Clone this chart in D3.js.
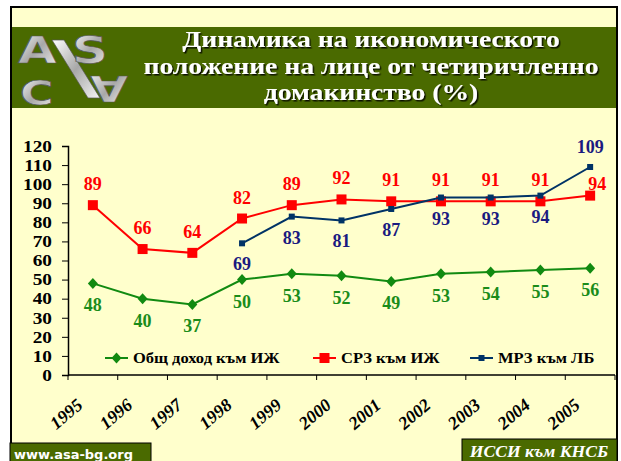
<!DOCTYPE html>
<html lang="bg">
<head>
  <meta charset="UTF-8">
  <title>Динамика на икономическото положение</title>
  <style>
  * { margin: 0; padding: 0; }
  body { background: #fff; }
  </style>
  <script src="https://cdn.jsdelivr.net/npm/d3@7/dist/d3.min.js"></script>
</head>
<body>
<svg width="621" height="461" id="svg1"></svg>
<script>
// данни
const years = ["1995", "1996", "1997", "1998", "1999", "2000", "2001", "2002", "2003", "2004", "2005"];
const obshtDohod = [48, 40, 37, 50, 53, 52, 49, 53, 54, 55, 56];          // Общ доход към ИЖ
const srz = [89, 66, 64, 82, 89, 92, 91, 91, 91, 91, 94];                 // СРЗ към ИЖ
const mrz = [null, null, null, 69, 83, 81, 87, 93, 93, 94, 109];          // МРЗ към ЛБ
const yTicks = [0, 10, 20, 30, 40, 50, 60, 70, 80, 90, 100, 110, 120];
const titleLines = ["Динамика на икономическото", "положение на лице от четиричленно", "домакинство (%)"];

const svg = d3.select("#svg1");
const serif = "'Liberation Serif', 'Times New Roman', serif";

// текст, леко разтеглен хоризонтално (както в оригинала)
function sText (g, x, y, str, sx) {
  return g.append("text").attr("transform", `translate(${x},${y}) scale(${sx || 1},1)`).text(str);
}

const defs = svg.append("defs");
const shadow = defs.append("filter").attr("id", "shadow").attr("x", "-5%").attr("y", "-20%").attr("width", "110%").attr("height", "140%");
shadow.append("feDropShadow").attr("dx", 1.5).attr("dy", 1.5).attr("stdDeviation", 0.6)
  .attr("flood-color", "#000").attr("flood-opacity", 0.85);

// фон и рамка
svg.append("rect").attr("x", 11).attr("y", 7).attr("width", 606).attr("height", 460)
  .attr("fill", "#ffffcc").attr("stroke", "#000").attr("stroke-width", 2);

// зелена лента със заглавие
svg.append("rect").attr("x", 12).attr("y", 27).attr("width", 604).attr("height", 81).attr("fill", "#4a6a00");

// лого (приблизително)
const grad = defs.append("linearGradient").attr("id", "silver").attr("x1", 0).attr("y1", 0).attr("x2", 1).attr("y2", 1);
grad.append("stop").attr("offset", "0%").attr("stop-color", "#ffffff");
grad.append("stop").attr("offset", "50%").attr("stop-color", "#a8a8a8");
grad.append("stop").attr("offset", "100%").attr("stop-color", "#f4f4f4");
const logo = svg.append("g").attr("font-family", "'DejaVu Sans', sans-serif").attr("font-weight", "bold")
  .attr("fill", "url(#silver)").attr("stroke", "#555").attr("stroke-width", 0.7);
logo.append("path").attr("d", "M52,40L64,40L100,98L88,98Z").attr("fill", "url(#silver)").attr("stroke", "#555").attr("stroke-width", 0.7);
sText(logo, 18, 63, "A", 1.35).attr("font-size", 37);
sText(logo, 72, 63, "S", 1.35).attr("font-size", 37);
sText(logo, 20, 105, "C", 1.35).attr("font-size", 34);
logo.append("text").attr("font-size", 36).attr("transform", "translate(128,76) rotate(180) scale(1.35,1)").text("A");

// заглавие
const title = svg.append("g").attr("font-family", serif).attr("font-weight", "bold")
  .attr("font-size", 23).attr("text-anchor", "middle").attr("fill", "#fff").attr("filter", "url(#shadow)");
titleLines.forEach((t, i) => {
  sText(title, 371, 47 + i * 26.5, t, 1.2);
});

// скали
const x = d3.scaleBand().domain(years).range([68, 615]);
const y = d3.scaleLinear().domain([0, 120]).range([375, 146]);
const cx = d => x(d) + x.bandwidth() / 2;

// оси
const yAxis = svg.append("g").attr("transform", "translate(68,0)")
  .call(d3.axisLeft(y).tickValues(yTicks).tickSize(6).tickPadding(10));
yAxis.selectAll("text").attr("font-family", serif).attr("font-weight", "bold").attr("font-size", 16.5).attr("fill", "#000")
  .attr("x", -16 / 1.17).attr("transform", "scale(1.17,1)");
yAxis.selectAll(".tick line").attr("stroke", "#000");
yAxis.select(".domain").attr("stroke", "#000").attr("stroke-width", 1.5);

const xAxis = svg.append("g").attr("transform", "translate(0,375)");
xAxis.append("line").attr("x1", 68).attr("x2", 615).attr("stroke", "#000").attr("stroke-width", 1.5);
xAxis.selectAll("line.tick").data(d3.range(years.length + 1)).enter().append("line")
  .attr("class", "tick")
  .attr("x1", i => 68 + i * x.step()).attr("x2", i => 68 + i * x.step())
  .attr("y1", 0).attr("y2", 5).attr("stroke", "#000");
xAxis.selectAll("text").data(years).enter().append("text")
  .attr("transform", d => `translate(${cx(d) - 9},${32}) rotate(-40)`)
  .attr("text-anchor", "end")
  .attr("font-family", serif).attr("font-weight", "bold").attr("font-style", "italic").attr("font-size", 18)
  .text(d => d);

// серии
const series = [
  { name: "Общ доход към ИЖ", values: obshtDohod, line: "#118a11", label: "#1a8c1a", marker: "diamond" },
  { name: "СРЗ към ИЖ", values: srz, line: "#ff0000", label: "#ff0000", marker: "bigsquare" },
  { name: "МРЗ към ЛБ", values: mrz, line: "#003366", label: "#1a1a80", marker: "smallsquare" }
];

const lineGen = d3.line()
  .defined(d => d.v != null)
  .x(d => cx(d.year))
  .y(d => y(d.v));

function drawMarker (g, type, color) {
  if (type === "diamond") {
    g.append("path").attr("d", "M0,-5.5L5,0L0,5.5L-5,0Z").attr("fill", color);
  } else if (type === "bigsquare") {
    g.append("rect").attr("x", -5).attr("y", -5).attr("width", 10).attr("height", 10).attr("fill", color);
  } else {
    g.append("rect").attr("x", -3).attr("y", -3).attr("width", 6).attr("height", 6).attr("fill", color);
  }
}

series.forEach((s, si) => {
  const pts = years.map((yr, i) => ({ year: yr, v: s.values[i], i: i }));
  svg.append("path").datum(pts).attr("d", lineGen)
    .attr("fill", "none").attr("stroke", s.line).attr("stroke-width", 2);
  pts.filter(p => p.v != null).forEach(p => {
    const g = svg.append("g").attr("transform", `translate(${cx(p.year)},${y(p.v)})`);
    drawMarker(g, s.marker, s.line);
    // позиция на етикета
    const mrzAbove = mrz[p.i] != null && mrz[p.i] - srz[p.i] > 5;
    let dx = 0, dy;
    if (si === 0) dy = 28;
    else if (si === 1) { dy = mrzAbove ? -6 : -15; dx = mrzAbove ? 7 : 0; }
    else dy = mrzAbove ? -14 : 27;
    svg.append("text").attr("x", cx(p.year) + dx).attr("y", y(p.v) + dy)
      .attr("text-anchor", "middle")
      .attr("font-family", serif).attr("font-weight", "bold").attr("font-size", 18)
      .attr("fill", s.label).text(p.v);
  });
});

// легенда
const legendX = [105, 313, 470];
series.forEach((s, i) => {
  const g = svg.append("g").attr("transform", `translate(${legendX[i]},358)`);
  g.append("line").attr("x1", 0).attr("x2", 23).attr("stroke", s.line).attr("stroke-width", 2);
  const m = g.append("g").attr("transform", "translate(11.5,0)");
  drawMarker(m, s.marker, s.line);
  sText(g, 28, 5, s.name, 1.1)
    .attr("font-family", serif).attr("font-weight", "bold").attr("font-size", 15);
});

// долни надписи
svg.append("rect").attr("x", 10).attr("y", 443).attr("width", 141).attr("height", 20)
  .attr("fill", "#4a6a00").attr("stroke", "#000").attr("stroke-width", 1);
svg.append("text").attr("x", 14).attr("y", 459)
  .attr("font-family", "'DejaVu Sans', Verdana, sans-serif").attr("font-weight", "bold").attr("font-size", 13)
  .attr("fill", "#fff").text("www.asa-bg.org");

svg.append("rect").attr("x", 462).attr("y", 439).attr("width", 155).attr("height", 24)
  .attr("fill", "#4a6a00").attr("stroke", "#000").attr("stroke-width", 1);
sText(svg, 539, 457, "ИССИ към КНСБ", 1.1).attr("text-anchor", "middle")
  .attr("font-family", serif).attr("font-weight", "bold").attr("font-style", "italic").attr("font-size", 16)
  .attr("fill", "#fff");
</script>
</body>
</html>
